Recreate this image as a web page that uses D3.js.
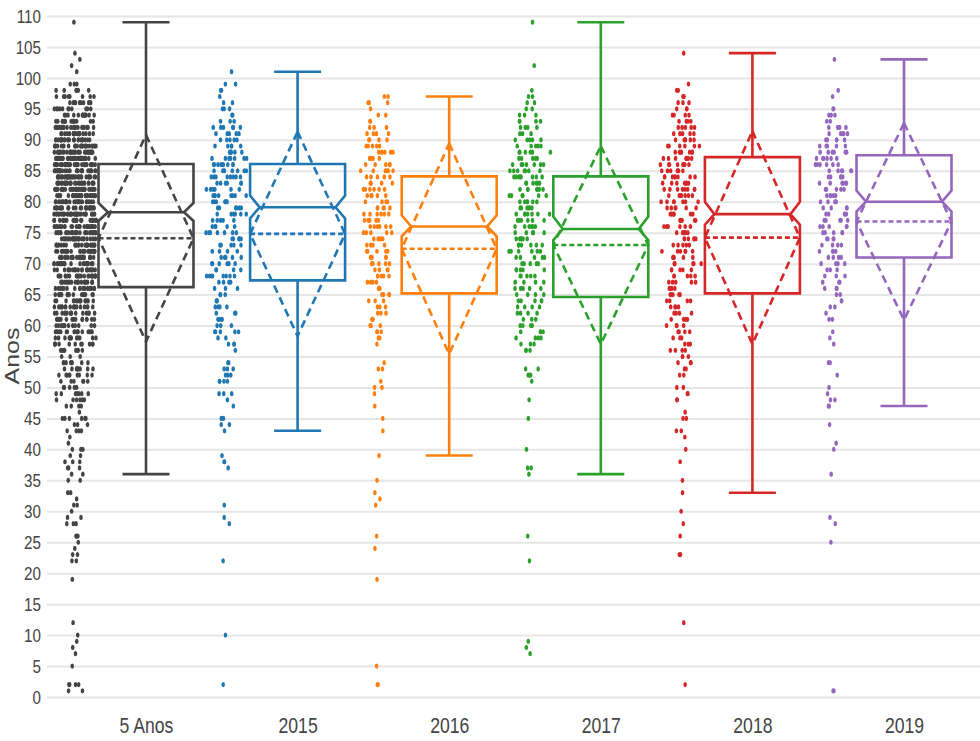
<!DOCTYPE html>
<html>
<head>
<meta charset="utf-8">
<script src="https://cdn.jsdelivr.net/npm/d3@7"></script>
<style>
  body { margin: 0; background: #fff; }
  svg { display: block; }
  text { font-family: "Liberation Sans", Arial, sans-serif; fill: #444; }
</style>
</head>
<body>
<svg width="980" height="741"></svg>
<script>
// categories and box statistics
const categories = ['5 Anos', '2015', '2016', '2017', '2018', '2019'];
const colors     = ['#444444', '#1f77b4', '#ff7f0e', '#2ca02c', '#d62728', '#9467bd'];
const lowerFence = [36, 43, 39, 36, 33, 47];
const q1         = [66.2, 67.3, 65.2, 64.6, 65.2, 71.0];
const median     = [78.3, 79.1, 76.0, 75.6, 78.0, 80.0];
const q3         = [86.1, 86.1, 84.1, 84.1, 87.2, 87.5];
const upperFence = [109, 101, 97, 109, 104, 103];
const mean       = [74.1, 74.8, 72.4, 73.0, 74.2, 76.8];
const sd         = [16.7, 16.5, 17.0, 16.0, 17.2, 15.9];
const notchLo    = [76.9, 77.3, 74.4, 73.8, 76.3, 78.4];
const notchHi    = [79.8, 81.0, 77.8, 77.6, 80.0, 81.8];
const yTicks     = d3.range(0, 111, 5);

// sample points per year as [age, count]
const pts2015 = [[101,1],[99,2],[98,2],[97,1],[96,2],[95,3],[94,2],[93,3],[92,6],[91,5],[90,5],[89,5],[88,6],[87,7],[86,9],[85,8],[84,8],[83,6],[82,6],[81,8],[80,7],[79,6],[78,6],[77,5],[76,5],[75,7],[74,5],[73,5],[72,4],[71,5],[70,6],[69,4],[68,8],[67,4],[66,3],[65,3],[64,3],[63,4],[62,3],[61,4],[60,3],[59,5],[58,2],[57,3],[56,1],[54,2],[53,3],[52,3],[51,4],[49,3],[48,1],[47,1],[45,2],[44,2],[43,1],[39,1],[38,2],[37,1],[31,1],[29,1],[28,1],[22,1],[10,1],[2,1]];
const pts2016 = [[97,2],[96,3],[95,1],[94,2],[93,2],[92,3],[91,4],[90,4],[89,5],[88,6],[87,5],[86,5],[85,6],[84,5],[83,5],[82,6],[81,5],[80,4],[79,5],[78,6],[77,5],[76,6],[75,5],[74,5],[73,4],[72,5],[71,4],[70,5],[69,4],[68,5],[67,4],[66,3],[65,4],[64,3],[63,3],[62,3],[61,3],[60,3],[59,3],[58,2],[57,1],[54,1],[53,2],[51,1],[50,2],[49,1],[47,1],[45,1],[43,1],[39,1],[35,1],[33,1],[32,1],[31,1],[26,1],[24,1],[19,1],[5,1],[2,2]];
const pts2017 = [[109,1],[102,1],[98,1],[97,2],[96,2],[95,2],[94,3],[93,4],[92,4],[91,3],[90,5],[89,5],[88,6],[87,5],[86,7],[85,7],[84,8],[83,6],[82,7],[81,7],[80,6],[79,6],[78,7],[77,6],[76,6],[75,6],[74,6],[73,6],[72,6],[71,5],[70,5],[69,5],[68,5],[67,4],[66,5],[65,4],[64,5],[63,4],[62,4],[61,3],[60,4],[59,4],[58,4],[57,3],[56,3],[53,2],[52,3],[51,1],[48,1],[45,1],[40,1],[37,2],[36,1],[26,1],[22,1],[9,1],[8,1],[7,1]];
const pts2018 = [[104,1],[99,1],[98,2],[97,2],[96,3],[95,3],[94,4],[93,4],[92,5],[91,5],[90,6],[89,6],[88,7],[87,7],[86,8],[85,7],[84,8],[83,7],[82,8],[81,7],[80,7],[79,6],[78,7],[77,6],[76,6],[75,6],[74,6],[73,5],[72,6],[71,5],[70,6],[69,5],[68,5],[67,5],[66,4],[65,5],[64,4],[63,4],[62,4],[61,4],[60,4],[59,4],[58,3],[57,3],[56,4],[55,3],[54,3],[53,2],[52,2],[50,2],[49,2],[48,2],[46,1],[45,2],[43,2],[42,1],[40,1],[38,1],[35,1],[33,1],[30,1],[28,1],[26,1],[23,2],[12,1],[2,1]];
const pts2019 = [[103,1],[98,1],[97,1],[95,2],[94,3],[93,2],[92,4],[91,5],[90,5],[89,5],[88,6],[87,6],[86,6],[85,6],[84,5],[83,6],[82,5],[81,5],[80,5],[79,4],[78,5],[77,5],[76,5],[75,5],[74,4],[73,4],[72,4],[71,4],[70,4],[69,3],[68,3],[67,3],[66,3],[65,2],[64,2],[63,2],[62,1],[61,2],[59,1],[58,1],[57,1],[54,2],[52,1],[50,1],[49,1],[48,2],[47,2],[44,1],[41,1],[40,1],[36,1],[29,1],[28,1],[25,1],[1,2]];
const yearPts = [pts2015, pts2016, pts2017, pts2018, pts2019];
// "5 Anos" is every year pooled together
const ptsAll = yearPts.flat();
const seriesPts = [ptsAll, ...yearPts];

const svg = d3.select('svg');
const W = 980, H = 741;
const x = d3.scalePoint().domain(categories).range([146, 904]);
const y = d3.scaleLinear().domain([0, 110]).range([697, 16]);
const boxHalf = 47.5, capHalf = 23.5, notchIn = 9.5;
const ptsOffset = -71, ptsSpread = 21;
const SX = 0.8; // text looks horizontally squeezed

// grid + y labels
const gy = svg.append('g').attr('transform', 'translate(47,0)')
  .call(d3.axisLeft(y).tickValues(yTicks).tickSize(-(W - 47)).tickPadding(0).tickFormat(d3.format('d')));
gy.select('.domain').remove();
gy.selectAll('.tick line').attr('stroke', '#e6e6e6').attr('stroke-width', 2);
gy.selectAll('.tick text').attr('x', -6 / SX).attr('transform', `scale(${SX},1)`)
  .style('font-size', '19px').attr('fill', '#444');

svg.append('text').attr('transform', `translate(19,356) scale(${SX},1) rotate(-90)`)
  .attr('text-anchor', 'middle').style('font-size', '25px').text('Anos');

// x labels
const gx = svg.append('g').attr('transform', 'translate(0,697)')
  .call(d3.axisBottom(x).tickSize(0).tickPadding(0));
gx.select('.domain').remove();
gx.selectAll('.tick text').attr('y', 36).attr('dy', null).attr('transform', `scale(${SX},1)`)
  .style('font-size', '22px').attr('fill', '#444');

// tiny deterministic generator for jitter positions
function rng(seed) {
  return function () {
    seed |= 0; seed = seed + 0x6D2B79F5 | 0;
    let t = Math.imul(seed ^ seed >>> 15, 1 | seed);
    t = t + Math.imul(t ^ t >>> 7, 61 | t) ^ t;
    return ((t ^ t >>> 14) >>> 0) / 4294967296;
  };
}

categories.forEach((cat, i) => {
  const cx = x(cat), col = colors[i];
  const vals = seriesPts[i].flatMap(([a, n]) => d3.range(n).map(() => a)).sort(d3.ascending);
  // density scaled jitter, like plotly's box points
  const fac = vals.map((v, k) => {
    const lo = vals[Math.max(0, k - 5)], hi = vals[Math.min(vals.length - 1, k + 5)];
    return Math.sqrt(1 / Math.max(hi - lo, 1));
  });
  const fmax = d3.max(fac);
  const rand = rng(17 + i * 101);
  svg.append('g').selectAll('ellipse').data(vals).join('ellipse')
    .attr('cx', (v, k) => cx + ptsOffset + (fac[k] / fmax) * (2 * rand() - 1) * ptsSpread)
    .attr('cy', v => y(v))
    .attr('rx', 1.8).attr('ry', 2.6)
    .attr('fill', col);

  const g = svg.append('g').attr('fill', 'none').attr('stroke', col).attr('stroke-width', 2.6);
  const L = cx - boxHalf, R = cx + boxHalf;
  g.append('path').attr('d',
    `M${L},${y(q1[i])}V${y(notchLo[i])}L${L + notchIn},${y(median[i])}L${L},${y(notchHi[i])}V${y(q3[i])}` +
    `H${R}V${y(notchHi[i])}L${R - notchIn},${y(median[i])}L${R},${y(notchLo[i])}V${y(q1[i])}Z`);
  g.append('line').attr('x1', L + notchIn).attr('x2', R - notchIn)
    .attr('y1', y(median[i])).attr('y2', y(median[i]));
  // whiskers
  g.append('line').attr('x1', cx).attr('x2', cx).attr('y1', y(q3[i])).attr('y2', y(upperFence[i]));
  g.append('line').attr('x1', cx).attr('x2', cx).attr('y1', y(q1[i])).attr('y2', y(lowerFence[i]));
  g.append('line').attr('x1', cx - capHalf).attr('x2', cx + capHalf).attr('y1', y(upperFence[i])).attr('y2', y(upperFence[i]));
  g.append('line').attr('x1', cx - capHalf).attr('x2', cx + capHalf).attr('y1', y(lowerFence[i])).attr('y2', y(lowerFence[i]));
  // mean and sd diamond
  g.append('line').attr('x1', L).attr('x2', R).attr('y1', y(mean[i])).attr('y2', y(mean[i]))
    .attr('stroke-dasharray', '5,3');
  g.append('path').attr('stroke-dasharray', '8,5').attr('d',
    `M${cx},${y(mean[i] + sd[i])}L${R},${y(mean[i])}L${cx},${y(mean[i] - sd[i])}L${L},${y(mean[i])}Z`);
});
</script>
</body>
</html>
